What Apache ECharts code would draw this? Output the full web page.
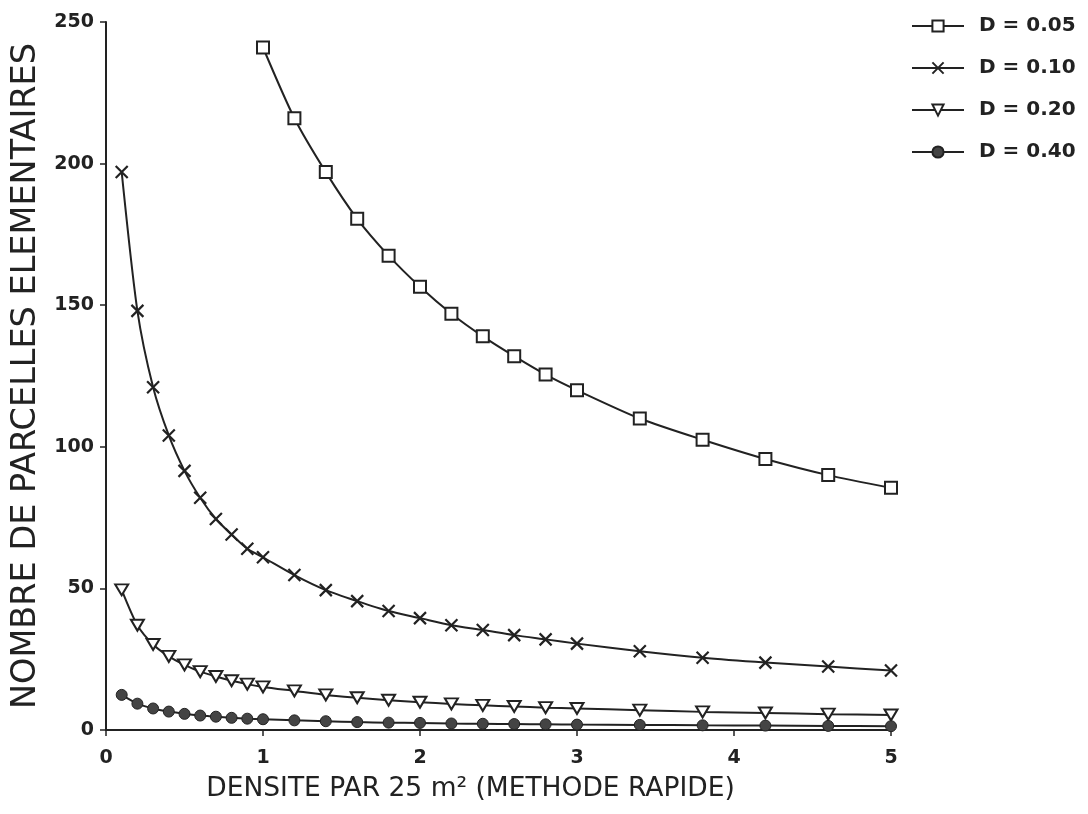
<!DOCTYPE html>
<html>
<head>
<meta charset="utf-8">
<script src="https://cdn.jsdelivr.net/npm/echarts@6/dist/echarts.min.js"></script>
<style>
html,body{margin:0;padding:0;background:#fff;}
#chart{width:1088px;height:814px;}
</style>
</head>
<body>
<div id="chart"></div>
<script>
// x values (densité par 25 m²)
const xFine = [0.1,0.2,0.3,0.4,0.5,0.6,0.7,0.8,0.9,1.0,1.2,1.4,1.6,1.8,2.0,2.2,2.4,2.6,2.8,3.0,3.4,3.8,4.2,4.6,5.0];
const xCoarse = [1.0,1.2,1.4,1.6,1.8,2.0,2.2,2.4,2.6,2.8,3.0,3.4,3.8,4.2,4.6,5.0];

// series values (nombre de parcelles élémentaires)
const d005 = [241,216,197,180.5,167.5,156.5,147,139,132,125.5,120,110,102.5,95.7,90,85.5];
const d010 = [197,148,121,104,91.5,82,74.5,69,64,61,54.7,49.4,45.5,42,39.5,37,35.3,33.5,32,30.5,27.8,25.5,23.8,22.4,21];
const d020 = [49.5,37,30.2,26,23,20.6,18.9,17.4,16.2,15.2,13.8,12.4,11.4,10.5,9.8,9.2,8.7,8.3,7.9,7.6,7,6.4,6,5.6,5.3];
const d040 = [12.4,9.3,7.6,6.5,5.7,5.1,4.7,4.3,4.0,3.8,3.4,3.1,2.8,2.6,2.5,2.3,2.2,2.1,2.0,1.9,1.8,1.65,1.55,1.45,1.35];

const seriesNames = ['D = 0.05','D = 0.10','D = 0.20','D = 0.40'];
const yTicks = [0,50,100,150,200,250];
const xTicks = [0,1,2,3,4,5];

const ink = '#222';
const font = 'DejaVu Sans';
const pair = (xs, ys) => xs.map((x,i)=>[x, ys[i]]);

const crossPath = 'path://M0,0L10,10M10,0L0,10';
const triPath = 'path://M0,0L12,0L6,10Z';

const chart = echarts.init(document.getElementById('chart'), null, {renderer:'canvas'});
const baseLine = {type:'line', smooth:0.25, lineStyle:{color:ink,width:2}, z:3};
chart.setOption({
  backgroundColor:'#fff',
  animation:false,
  textStyle:{fontFamily:font},
  grid:{left:106,right:197,top:22,bottom:84},
  legend:{
    orient:'vertical', left:906, top:11, itemWidth:52, itemHeight:14, itemGap:22,
    textStyle:{fontFamily:font,fontWeight:'bold',fontSize:20,color:ink,padding:[0,0,0,10]},
    data:seriesNames
  },
  xAxis:{
    type:'value', min:0, max:5, interval:1,
    name:'DENSITE PAR 25 m² (METHODE RAPIDE)', nameLocation:'middle', nameGap:46,
    nameTextStyle:{fontFamily:font,fontSize:26.5,color:ink,padding:[0,56,0,0]},
    axisLine:{show:true,onZero:false,lineStyle:{color:ink,width:2}},
    axisTick:{show:true,inside:false,length:6,lineStyle:{color:ink,width:1.5}},
    axisLabel:{margin:19,fontFamily:font,fontWeight:'bold',fontSize:19,color:ink,
      formatter:v=>xTicks.includes(v)?String(v):''},
    splitLine:{show:false}
  },
  yAxis:{
    type:'value', min:0, max:250, interval:50,
    name:'NOMBRE DE PARCELLES ELEMENTAIRES', nameLocation:'middle', nameGap:55,
    nameTextStyle:{fontFamily:font,fontSize:33.5,color:ink},
    axisLine:{show:true,lineStyle:{color:ink,width:2}},
    axisTick:{show:true,inside:false,length:6,lineStyle:{color:ink,width:1.5}},
    axisLabel:{margin:12,fontFamily:font,fontWeight:'bold',fontSize:19,color:ink,
      formatter:v=>yTicks.includes(v)?String(v):''},
    splitLine:{show:false}
  },
  series:[
    Object.assign({}, baseLine, {name:seriesNames[0], data:pair(xCoarse,d005),
      symbol:'rect', symbolSize:12, itemStyle:{color:'#fff',borderColor:ink,borderWidth:2}}),
    Object.assign({}, baseLine, {name:seriesNames[1], data:pair(xFine,d010),
      symbol:crossPath, symbolSize:12, itemStyle:{color:'#fff',borderColor:ink,borderWidth:2.2}}),
    Object.assign({}, baseLine, {name:seriesNames[2], data:pair(xFine,d020),
      symbol:triPath, symbolSize:[13,11], itemStyle:{color:'#fff',borderColor:ink,borderWidth:2}}),
    Object.assign({}, baseLine, {name:seriesNames[3], data:pair(xFine,d040),
      symbol:'circle', symbolSize:11, itemStyle:{color:'#444',borderColor:ink,borderWidth:1}})
  ]
});
</script>
</body>
</html>
